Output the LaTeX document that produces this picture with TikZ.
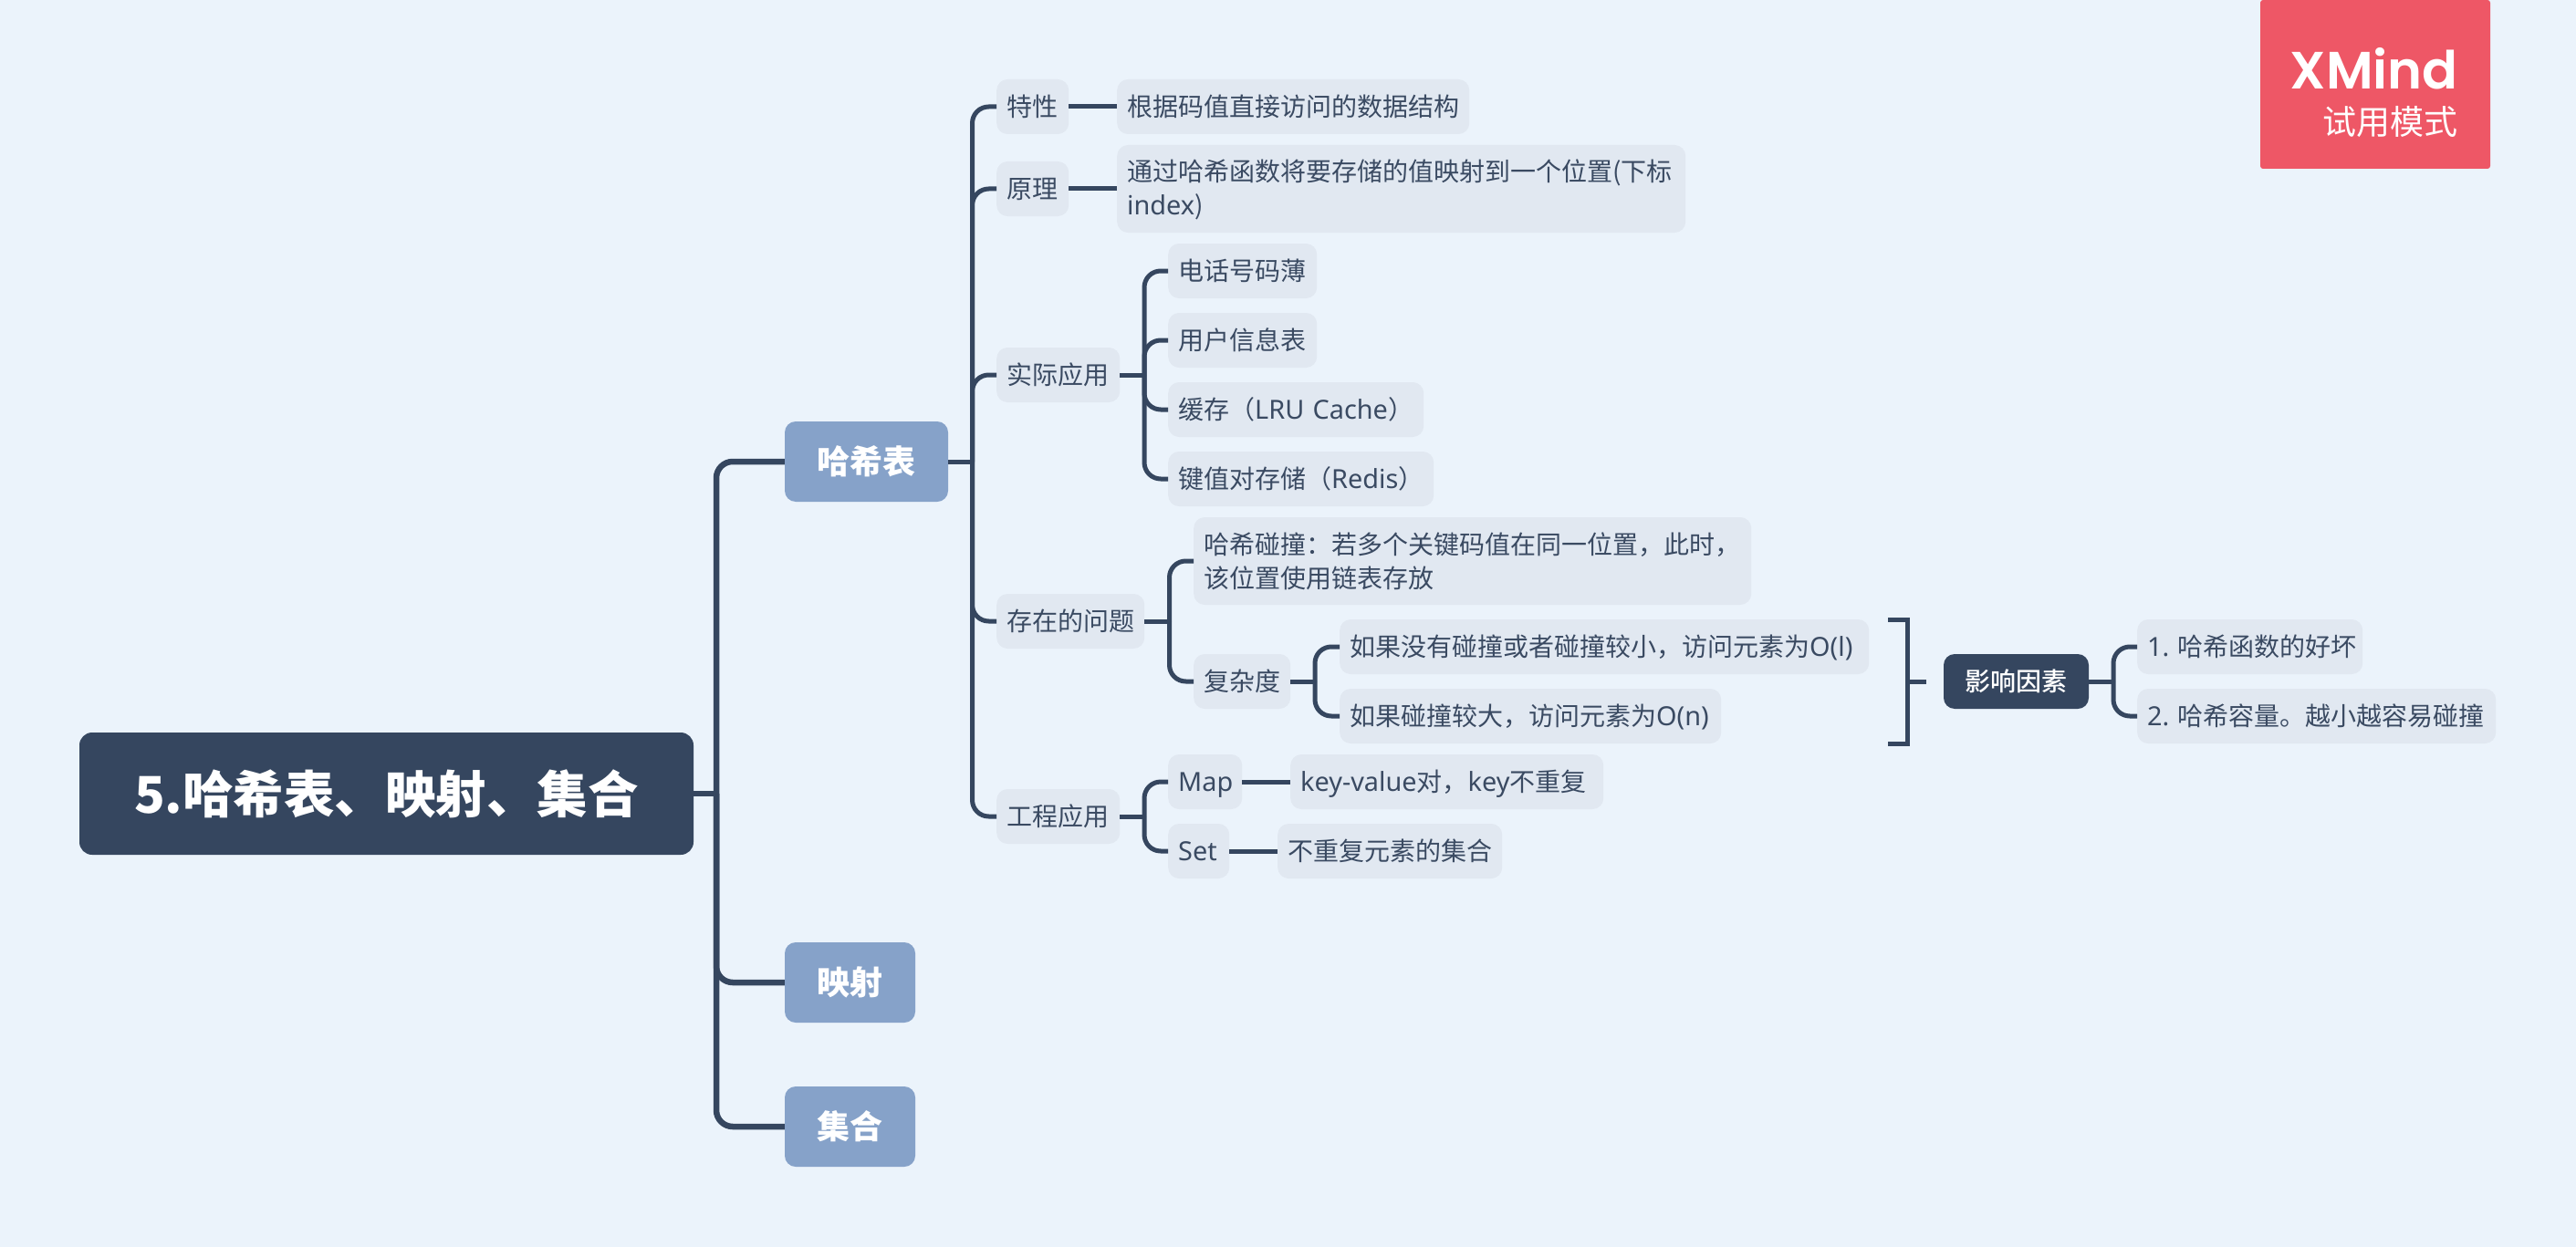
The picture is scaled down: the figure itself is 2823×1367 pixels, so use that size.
\documentclass[tikz,border=0pt]{standalone}
\usepackage{fontspec}
\setmainfont{Noto Sans CJK SC}
\newfontfamily\latfont{Noto Sans}[Scale=1.03]
\newfontfamily\midfont{Noto Sans CJK SC Medium}
\newfontfamily\brandfont{Poppins}[BoldFont={Poppins SemiBold}]
\newcommand{\lat}[1]{{\latfont #1}}
\newcommand{\linestrut}{\rule[-8pt]{0pt}{37pt}}
\definecolor{pagebg}{HTML}{EBF3FB}
\definecolor{leafbg}{HTML}{E1E8F1}
\definecolor{darkbg}{HTML}{35465F}
\definecolor{bluebg}{HTML}{86A2C9}
\definecolor{redbg}{HTML}{EE5766}
\definecolor{inkcol}{HTML}{3A4A62}
\usetikzlibrary{positioning}

\begin{document}
\begin{tikzpicture}[x=1pt,y=-1pt]
  \tikzset{leaf/.style={fill=leafbg,text=inkcol,rounded corners=12pt,inner xsep=11pt,inner ysep=11pt,
      minimum height=60pt,anchor=west,text width=#1,align=left,font=\fontsize{28}{37}\selectfont,
      execute at begin node=\linestrut,execute at end node=\linestrut}}
  \tikzset{topic/.style={fill=bluebg,text=white,rounded corners=12pt,minimum width=#1,minimum height=88pt,
      inner sep=0pt,font=\fontsize{36}{44}\selectfont\bfseries}}
  \tikzset{link/.style={draw=darkbg,line width=5pt,rounded corners=18pt}}
  \tikzset{trunk/.style={draw=darkbg,line width=6.5pt,rounded corners=18pt}}

  \fill[pagebg] (0,0) rectangle (2823,1367);
  \useasboundingbox (0,0) rectangle (2823,1367);

  \node (mark) [fill=redbg,rounded corners=3pt,minimum width=252pt,minimum height=185pt,inner sep=0pt] at (2603,92.5) {};
  \node (brand) [anchor=base east,text=white,inner sep=0pt,font=\fontsize{57.5}{60}\selectfont\brandfont\bfseries] at (2694,98) {XMind};
  \node (trial) [anchor=base east,text=white,inner sep=0pt,font=\fontsize{37}{40}\selectfont] at (2694,148) {试用模式};

  \node (root) [fill=darkbg,text=white,rounded corners=14pt,minimum width=673pt,minimum height=134pt,inner sep=0pt,
    font=\fontsize{55.5}{60}\selectfont\bfseries] at (423.5,870) {5.哈希表、映射、集合};
  \node (hash) [topic=179pt] at (949.5,506) {哈希表};
  \node (mapping) [topic=143pt] at (931.5,1077) {映射};
  \node (sets) [topic=143pt] at (931.5,1235) {集合};

  \node (trait) [leaf=57pt] at (1092,117) {特性};
  \node (traitA) [leaf=364pt] at (1224,117) {根据码值直接访问的数据结构};
  \node (idea) [leaf=57pt] at (1092,207) {原理};
  \node (ideaA) [leaf=601pt] at (1224,207) {通过哈希函数将要存储的值映射到一个位置(下标\\\lat{index})};

  \node (usage) [leaf=113pt] at (1092,411) {实际应用};
  \node (phone) [leaf=141pt] at (1280,297) {电话号码薄};
  \node (user) [leaf=141pt] at (1280,373) {用户信息表};
  \node (cache) [leaf=258pt] at (1280,449) {缓存（\lat{LRU~Cache}）};
  \node (redis) [leaf=269pt] at (1280,525) {键值对存储（\lat{Redis}）};

  \node (issue) [leaf=140pt] at (1092,681) {存在的问题};
  \node (clash) [leaf=589pt] at (1308,615) {哈希碰撞：若多个关键码值在同一位置，此时，\\该位置使用链表存放};
  \node (cost) [leaf=84pt] at (1308,747) {复杂度};
  \node (costA) [leaf=558pt] at (1468,709) {如果没有碰撞或者碰撞较小，访问元素为\lat{O(l)}};
  \node (costB) [leaf=396pt] at (1468,785) {如果碰撞较大，访问元素为\lat{O(n)}};

  \node (factor) [fill=darkbg,text=white,rounded corners=12pt,minimum width=159pt,minimum height=60pt,inner sep=0pt,
    font=\fontsize{28}{37}\selectfont\midfont] at (2209.5,747) {影响因素};
  \node (factorA) [leaf=225pt] at (2342,709) {\lat{1.}~哈希函数的好坏};
  \node (factorB) [leaf=371pt] at (2342,785) {\lat{2.}~哈希容量。越小越容易碰撞};

  \node (project) [leaf=113pt] at (1092,895) {工程应用};
  \node (map) [leaf=59pt] at (1280,857) {\lat{Map}};
  \node (mapA) [leaf=321pt] at (1414,857) {\lat{key-value}对，\lat{key}不重复};
  \node (set) [leaf=45pt] at (1280,933) {\lat{Set}};
  \node (setA) [leaf=224pt] at (1400,933) {不重复元素的集合};

  \coordinate (trunkfork) at (785,870);
  \coordinate (hashfork) at (1065.5,506);
  \coordinate (usagefork) at (1254,411);
  \coordinate (issuefork) at (1281.5,681);
  \coordinate (costfork) at (1441,747);
  \coordinate (factorfork) at (2316,747);
  \coordinate (projectfork) at (1254,895);
  \coordinate (bracketup) at (2069,679);
  \coordinate (bracketlow) at (2069,815);
  \coordinate (bracketmid) at (2090,747);
  \coordinate (brackettip) at (2111,747);

  \draw[trunk] (root.east) -- (trunkfork);
  \foreach \kid in {hash,mapping,sets} \draw[trunk] (trunkfork) |- (\kid.west);

  \draw[link] (hash.east) -- (hashfork);
  \foreach \kid in {trait,idea,usage,issue,project} \draw[link] (hashfork) |- (\kid.west);
  \draw[link] (trait.east) -- (traitA.west);
  \draw[link] (idea.east) -- (ideaA.west);

  \draw[link] (usage.east) -- (usagefork);
  \foreach \kid in {phone,user,cache,redis} \draw[link] (usagefork) |- (\kid.west);

  \draw[link] (issue.east) -- (issuefork);
  \foreach \kid in {clash,cost} \draw[link] (issuefork) |- (\kid.west);
  \draw[link] (cost.east) -- (costfork);
  \foreach \kid in {costA,costB} \draw[link] (costfork) |- (\kid.west);

  % bracket round the two cost leaves
  \draw[link,rounded corners=0pt] (bracketup) -| (bracketmid) |- (bracketlow);
  \draw[link] (bracketmid) -- (brackettip);

  \draw[link] (factor.east) -- (factorfork);
  \foreach \kid in {factorA,factorB} \draw[link] (factorfork) |- (\kid.west);

  \draw[link] (project.east) -- (projectfork);
  \foreach \kid in {map,set} \draw[link] (projectfork) |- (\kid.west);
  \draw[link] (map.east) -- (mapA.west);
  \draw[link] (set.east) -- (setA.west);
\end{tikzpicture}
\end{document}
